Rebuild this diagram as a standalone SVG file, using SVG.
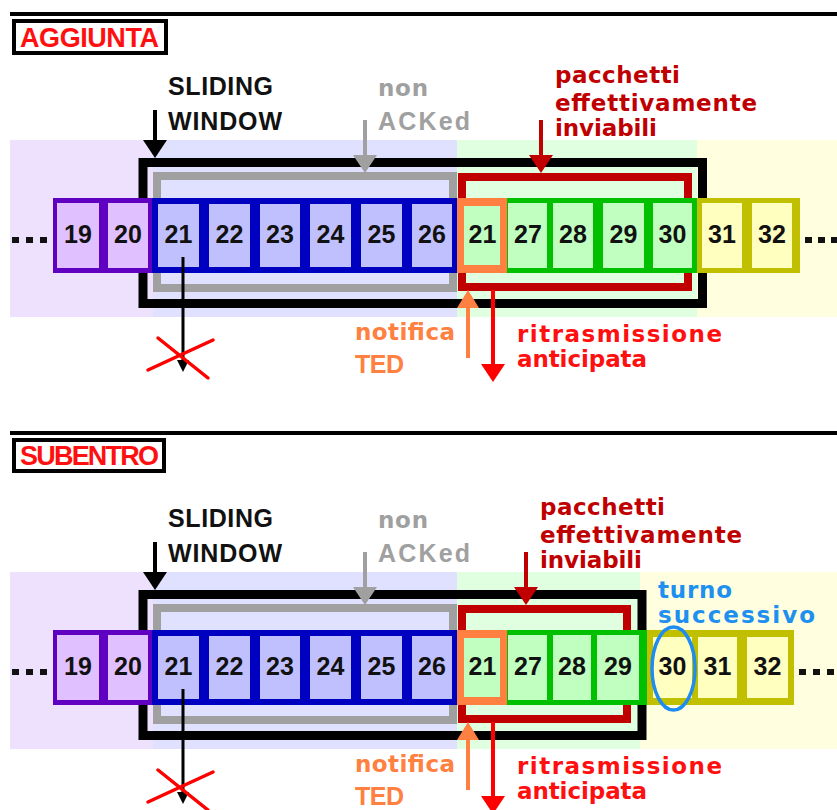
<svg xmlns="http://www.w3.org/2000/svg" width="837" height="810" viewBox="0 0 837 810">
  <style>
    text { font-family: "Liberation Sans", Arial, sans-serif; font-weight: bold; }
    .title { font-size: 27px; fill: #FF1010; }
    .lbl { font-size: 25px; }
    .low { font-family: "DejaVu Sans", Verdana, sans-serif; font-size: 23px; }
    .num { font-size: 25px; fill: #111; text-anchor: middle; }
    .blk { fill: #111; }
    .gry { fill: #A0A0A0; }
    .dred { fill: #C00000; }
    .red { fill: #FF1010; }
    .org { fill: #FF8040; }
    .blu { fill: #2090F0; }
    .rule { stroke: #000; stroke-width: 4; }
    .tbox { fill: #fff; stroke: #000; stroke-width: 4; }
    .win { fill: none; stroke: #000; stroke-width: 9; }
    .nack { fill: #E0E0FF; stroke: #A0A0A0; stroke-width: 8; }
    .send { fill: #E0FFE0; stroke: #C00000; stroke-width: 8; }
    .bP { fill: #6000C0; } .cP { fill: #E0C0FF; }
    .bB { fill: #0000C0; } .cB { fill: #C0C0FF; }
    .bO { fill: #FF8040; } .cO { fill: #C0FFC0; }
    .bG { fill: #00C000; } .cG { fill: #C0FFC0; }
    .bY { fill: #C0C000; } .cY { fill: #FFFFC0; }
    .dot { fill: #111; }
    .a { fill: none; stroke-width: 4; }
    .cross { stroke: #FF0000; stroke-width: 3.5; stroke-linecap: round; }
  </style>
  <defs>
    <marker id="ahBlack" viewBox="0 0 18 24" markerWidth="18" markerHeight="24" refX="0" refY="12" orient="auto" markerUnits="userSpaceOnUse"><path d="M0,0 L18,12 L0,24 Z" fill="#000"/></marker>
    <marker id="ahGray" viewBox="0 0 18 24" markerWidth="18" markerHeight="24" refX="0" refY="12" orient="auto" markerUnits="userSpaceOnUse"><path d="M0,0 L18,12 L0,24 Z" fill="#A0A0A0"/></marker>
    <marker id="ahDred" viewBox="0 0 18 24" markerWidth="18" markerHeight="24" refX="0" refY="12" orient="auto" markerUnits="userSpaceOnUse"><path d="M0,0 L18,12 L0,24 Z" fill="#C00000"/></marker>
    <marker id="ahOrg" viewBox="0 0 18 22" markerWidth="18" markerHeight="22" refX="0" refY="11" orient="auto" markerUnits="userSpaceOnUse"><path d="M0,0 L18,11 L0,22 Z" fill="#FF8040"/></marker>
    <marker id="ahRed" viewBox="0 0 18 24" markerWidth="18" markerHeight="24" refX="0" refY="12" orient="auto" markerUnits="userSpaceOnUse"><path d="M0,0 L18,12 L0,24 Z" fill="#FF0000"/></marker>
    <marker id="ahSmall" viewBox="0 0 12 12" markerWidth="12" markerHeight="12" refX="0" refY="6" orient="auto" markerUnits="userSpaceOnUse"><path d="M0,0 L12,6 L0,12 Z" fill="#000"/></marker>
  </defs>

  <rect width="837" height="810" fill="#fff"/>

  <!-- ================= AGGIUNTA ================= -->
  <g id="sec-aggiunta">
    <line class="rule" x1="10" y1="14" x2="837" y2="14"/>
    <g id="title-aggiunta">
      <rect class="tbox" x="14" y="21" width="152" height="32"/>
      <text class="title" x="20" y="47" textLength="139">AGGIUNTA</text>
    </g>

    <!-- background bands -->
    <g id="bands-a">
      <rect x="10" y="140" width="143" height="177" fill="#EDE1FD"/>
      <rect x="153" y="140" width="304" height="177" fill="#E0E0FF"/>
      <rect x="457" y="140" width="240" height="177" fill="#E0FFE0"/>
      <rect x="697" y="140" width="140" height="177" fill="#FFFFE0"/>
    </g>

    <!-- window frames -->
    <g id="window-a">
      <rect class="nack" x="157" y="176" width="296" height="112"/>
      <rect class="send" x="462" y="177" width="226" height="110"/>
      <rect class="win" x="143" y="162.5" width="559.5" height="141"/>
    </g>

    <!-- packets -->
    <g id="packets-a">
      <g id="dots-left-a"><rect class="dot" x="12" y="237" width="7" height="6"/><rect class="dot" x="26" y="237" width="7" height="6"/><rect class="dot" x="40" y="237" width="7" height="6"/></g>
      <rect class="bP" x="53" y="198" width="100" height="75"/>
      <rect class="bB" x="152" y="198" width="305" height="75"/>
      <rect class="bG" x="505" y="198" width="192" height="75"/>
      <rect class="bY" x="697" y="198" width="103" height="75"/>
      <g id="pa19"><rect class="cP" x="57" y="203" width="42" height="65"/><text class="num" x="78" y="243">19</text></g>
      <g id="pa20"><rect class="cP" x="108" y="203" width="40" height="65"/><text class="num" x="128" y="243">20</text></g>
      <g id="pa21"><rect class="cB" x="158" y="204" width="41" height="63"/><text class="num" x="178.5" y="243">21</text></g>
      <g id="pa22"><rect class="cB" x="209" y="204" width="41" height="63"/><text class="num" x="229.5" y="243">22</text></g>
      <g id="pa23"><rect class="cB" x="260" y="204" width="40" height="63"/><text class="num" x="280" y="243">23</text></g>
      <g id="pa24"><rect class="cB" x="310" y="204" width="41" height="63"/><text class="num" x="330.5" y="243">24</text></g>
      <g id="pa25"><rect class="cB" x="361" y="204" width="41" height="63"/><text class="num" x="381.5" y="243">25</text></g>
      <g id="pa26"><rect class="cB" x="412" y="204" width="40" height="63"/><text class="num" x="432" y="243">26</text></g>
      <g id="pa21r"><rect class="bO" x="457" y="198" width="50" height="75"/><rect class="cO" x="464" y="206" width="36" height="59"/><text class="num" x="482.5" y="243">21</text></g>
      <g id="pa27"><rect class="cG" x="508" y="203" width="39" height="65"/><text class="num" x="528" y="243">27</text></g>
      <g id="pa28"><rect class="cG" x="553" y="203" width="40" height="65"/><text class="num" x="573" y="243">28</text></g>
      <g id="pa29"><rect class="cG" x="603" y="203" width="41" height="65"/><text class="num" x="623.5" y="243">29</text></g>
      <g id="pa30"><rect class="cG" x="653" y="203" width="39" height="65"/><text class="num" x="672.5" y="243">30</text></g>
      <g id="pa31"><rect class="cY" x="702" y="203" width="40" height="65"/><text class="num" x="722" y="243">31</text></g>
      <g id="pa32"><rect class="cY" x="752" y="203" width="40" height="65"/><text class="num" x="772" y="243">32</text></g>
      <g id="dots-right-a"><rect class="dot" x="805" y="237" width="7" height="6"/><rect class="dot" x="818" y="237" width="7" height="6"/><rect class="dot" x="831" y="237" width="6" height="6"/></g>
    </g>

    <!-- connectors -->
    <g id="connectors-a">
      <line class="a" stroke="#000" x1="155" y1="110" x2="155" y2="140" marker-end="url(#ahBlack)"/>
      <line class="a" stroke="#A0A0A0" x1="365" y1="120" x2="365" y2="155" marker-end="url(#ahGray)"/>
      <line class="a" stroke="#C00000" x1="541" y1="120" x2="541" y2="155" marker-end="url(#ahDred)"/>
      <line class="a" stroke="#FF8040" x1="468" y1="358" x2="468" y2="308" marker-end="url(#ahOrg)"/>
      <line class="a" stroke="#FF0000" x1="493" y1="290" x2="493" y2="364" marker-end="url(#ahRed)"/>
      <line stroke="#000" stroke-width="3" x1="183" y1="257" x2="183" y2="360" marker-end="url(#ahSmall)"/>
      <g id="cross-a" class="cross">
        <line x1="148" y1="370" x2="213" y2="340"/>
        <line x1="158" y1="338" x2="208" y2="378"/>
      </g>
    </g>

    <!-- labels -->
    <g id="labels-a">
      <text class="lbl blk" x="168" y="95" textLength="105">SLIDING</text>
      <text class="lbl blk" x="168" y="130" textLength="114">WINDOW</text>
      <text class="low gry" x="378" y="96" textLength="50">non</text>
      <text class="lbl gry" x="378" y="130" textLength="92">ACKed</text>
      <text class="low dred" x="555" y="83" textLength="125">pacchetti</text>
      <text class="low dred" x="555" y="111" textLength="202">effettivamente</text>
      <text class="low dred" x="555" y="136" textLength="102">inviabili</text>
      <text class="low org" x="355" y="340" textLength="100">notifica</text>
      <text class="lbl org" x="355" y="373" textLength="49">TED</text>
      <text class="low red" x="517" y="342" textLength="205">ritrasmissione</text>
      <text class="low red" x="517" y="367" textLength="130">anticipata</text>
    </g>
  </g>

  <!-- ================= SUBENTRO ================= -->
  <g id="sec-subentro">
    <line class="rule" x1="10" y1="433" x2="837" y2="433"/>
    <g id="title-subentro">
      <rect class="tbox" x="14" y="440" width="150" height="31"/>
      <text class="title" x="20" y="465" textLength="139">SUBENTRO</text>
    </g>

    <g transform="translate(0,432)">
      <g id="bands-s">
        <rect x="10" y="140" width="143" height="177" fill="#EDE1FD"/>
        <rect x="153" y="140" width="304" height="177" fill="#E0E0FF"/>
        <rect x="457" y="140" width="183" height="177" fill="#E0FFE0"/>
        <rect x="640" y="140" width="197" height="177" fill="#FFFFE0"/>
      </g>

      <g id="window-s">
        <rect class="nack" x="157" y="176" width="296" height="112"/>
        <rect class="send" x="462" y="177" width="165" height="110"/>
        <rect class="win" x="143" y="162.5" width="499" height="141"/>
      </g>

      <g id="packets-s">
        <g id="dots-left-s"><rect class="dot" x="12" y="237" width="7" height="6"/><rect class="dot" x="26" y="237" width="7" height="6"/><rect class="dot" x="40" y="237" width="7" height="6"/></g>
        <rect class="bP" x="53" y="198" width="100" height="75"/>
        <rect class="bB" x="152" y="198" width="305" height="75"/>
        <rect class="bG" x="505" y="198" width="142" height="75"/>
        <rect class="bY" x="647" y="198" width="147" height="75"/>
        <g id="ps19"><rect class="cP" x="57" y="203" width="42" height="65"/><text class="num" x="78" y="243">19</text></g>
        <g id="ps20"><rect class="cP" x="108" y="203" width="40" height="65"/><text class="num" x="128" y="243">20</text></g>
        <g id="ps21"><rect class="cB" x="158" y="204" width="41" height="63"/><text class="num" x="178.5" y="243">21</text></g>
        <g id="ps22"><rect class="cB" x="209" y="204" width="41" height="63"/><text class="num" x="229.5" y="243">22</text></g>
        <g id="ps23"><rect class="cB" x="260" y="204" width="40" height="63"/><text class="num" x="280" y="243">23</text></g>
        <g id="ps24"><rect class="cB" x="310" y="204" width="41" height="63"/><text class="num" x="330.5" y="243">24</text></g>
        <g id="ps25"><rect class="cB" x="361" y="204" width="41" height="63"/><text class="num" x="381.5" y="243">25</text></g>
        <g id="ps26"><rect class="cB" x="412" y="204" width="40" height="63"/><text class="num" x="432" y="243">26</text></g>
        <g id="ps21r"><rect class="bO" x="457" y="198" width="50" height="75"/><rect class="cO" x="464" y="206" width="36" height="59"/><text class="num" x="482.5" y="243">21</text></g>
        <g id="ps27"><rect class="cG" x="508" y="203" width="39" height="65"/><text class="num" x="528" y="243">27</text></g>
        <g id="ps28"><rect class="cG" x="553" y="203" width="38" height="65"/><text class="num" x="572" y="243">28</text></g>
        <g id="ps29"><rect class="cG" x="597" y="203" width="42" height="65"/><text class="num" x="618" y="243">29</text></g>
        <g id="ps30"><rect class="cY" x="653" y="205" width="39" height="61"/><text class="num" x="672.5" y="243">30</text>
          <ellipse cx="673.5" cy="236.5" rx="21.5" ry="41.5" fill="none" stroke="#1E8CF0" stroke-width="3.5"/></g>
        <g id="ps31"><rect class="cY" x="698" y="205" width="39" height="61"/><text class="num" x="717.5" y="243">31</text></g>
        <g id="ps32"><rect class="cY" x="747" y="205" width="41" height="61"/><text class="num" x="767.5" y="243">32</text></g>
        <g id="dots-right-s"><rect class="dot" x="799" y="237" width="7" height="6"/><rect class="dot" x="813" y="237" width="7" height="6"/><rect class="dot" x="827" y="237" width="7" height="6"/></g>
      </g>

      <g id="connectors-s">
        <line class="a" stroke="#000" x1="155" y1="110" x2="155" y2="140" marker-end="url(#ahBlack)"/>
        <line class="a" stroke="#A0A0A0" x1="365" y1="120" x2="365" y2="155" marker-end="url(#ahGray)"/>
        <line class="a" stroke="#C00000" x1="526" y1="120" x2="526" y2="155" marker-end="url(#ahDred)"/>
        <line class="a" stroke="#FF8040" x1="468" y1="358" x2="468" y2="308" marker-end="url(#ahOrg)"/>
        <line class="a" stroke="#FF0000" x1="493" y1="290" x2="493" y2="364" marker-end="url(#ahRed)"/>
        <line stroke="#000" stroke-width="3" x1="183" y1="257" x2="183" y2="360" marker-end="url(#ahSmall)"/>
        <g id="cross-s" class="cross">
          <line x1="148" y1="370" x2="213" y2="340"/>
          <line x1="158" y1="338" x2="208" y2="378"/>
        </g>
      </g>

      <g id="labels-s">
        <text class="lbl blk" x="168" y="95" textLength="105">SLIDING</text>
        <text class="lbl blk" x="168" y="130" textLength="114">WINDOW</text>
        <text class="low gry" x="378" y="96" textLength="50">non</text>
        <text class="lbl gry" x="378" y="130" textLength="92">ACKed</text>
        <text class="low dred" x="540" y="83" textLength="125">pacchetti</text>
        <text class="low dred" x="540" y="111" textLength="202">effettivamente</text>
        <text class="low dred" x="540" y="136" textLength="102">inviabili</text>
        <text class="low blu" x="658" y="166" textLength="74">turno</text>
        <text class="low blu" x="658" y="191" textLength="157">successivo</text>
        <text class="low org" x="355" y="340" textLength="100">notifica</text>
        <text class="lbl org" x="355" y="373" textLength="49">TED</text>
        <text class="low red" x="517" y="342" textLength="205">ritrasmissione</text>
        <text class="low red" x="517" y="367" textLength="130">anticipata</text>
      </g>
    </g>
  </g>
</svg>
